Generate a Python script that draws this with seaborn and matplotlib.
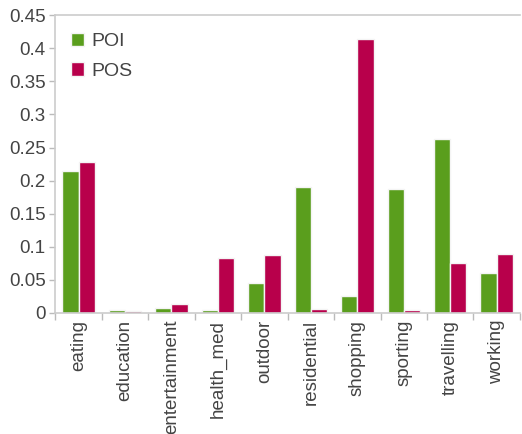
import matplotlib
matplotlib.use("Agg")
import matplotlib.pyplot as plt
import seaborn as sns
import pandas as pd
import numpy as np
from matplotlib.ticker import FuncFormatter, FixedLocator

categories = ["eating", "education", "entertainment", "health_med", "outdoor",
              "residential", "shopping", "sporting", "travelling", "working"]
poi = [0.214, 0.004, 0.007, 0.005, 0.045, 0.191, 0.025, 0.188, 0.263, 0.060]
pos = [0.228, 0.003, 0.014, 0.083, 0.088, 0.006, 0.414, 0.004, 0.075, 0.089]
series = ["POI", "POS"]
colors = ["#5a9e1d", "#b8004b"]

df = pd.DataFrame({
    "category": categories * 2,
    "value": poi + pos,
    "series": ["POI"] * len(categories) + ["POS"] * len(categories),
})

sns.set_style("white")
plt.rcParams['font.family'] = ['Liberation Sans', 'DejaVu Sans']

fig = plt.figure(figsize=(5.22, 4.34), dpi=100)
ax = fig.add_axes([0.106, 0.279, 0.89, 0.686])

sns.barplot(data=df, x="category", y="value", hue="series", palette=colors,
            width=0.7, linewidth=1, edgecolor="#f4f4f4", ax=ax, saturation=1)

ax.set_xlim(-0.5, len(categories) - 0.5)
ax.set_ylim(0, 0.45)
ax.set_xlabel("")
ax.set_ylabel("")
ax.set_yticks(np.arange(0, 0.451, 0.05))
ax.yaxis.set_major_formatter(FuncFormatter(lambda v, _: f"{v:.2f}".rstrip("0").rstrip(".") if v != 0 else "0"))
ax.tick_params(axis="y", length=4, width=1, color="#bbbbbb", labelsize=13.5, labelcolor="#444444", left=True, pad=3)
ax.tick_params(axis="x", which="major", length=0, labelsize=13.5, labelcolor="#444444", pad=5)
ax.set_xticks(range(len(categories)))
ax.set_xticklabels(categories, rotation=90)
ax.xaxis.set_minor_locator(FixedLocator(np.arange(-0.5, len(categories), 1.0)))
ax.tick_params(axis="x", which="minor", length=5, width=1, color="#bbbbbb", bottom=True)

for s in ["left", "bottom", "top"]:
    ax.spines[s].set_color("#cccccc")
    ax.spines[s].set_linewidth(1.2)
ax.spines["right"].set_visible(False)

leg = ax.legend(loc="upper left", frameon=False, fontsize=14, handlelength=0.7,
                handleheight=0.7, handletextpad=0.35, labelspacing=0.6,
                bbox_to_anchor=(-0.005, 1.0))
for t in leg.get_texts():
    t.set_color("#444444")

fig.savefig("out.png", dpi=100)
